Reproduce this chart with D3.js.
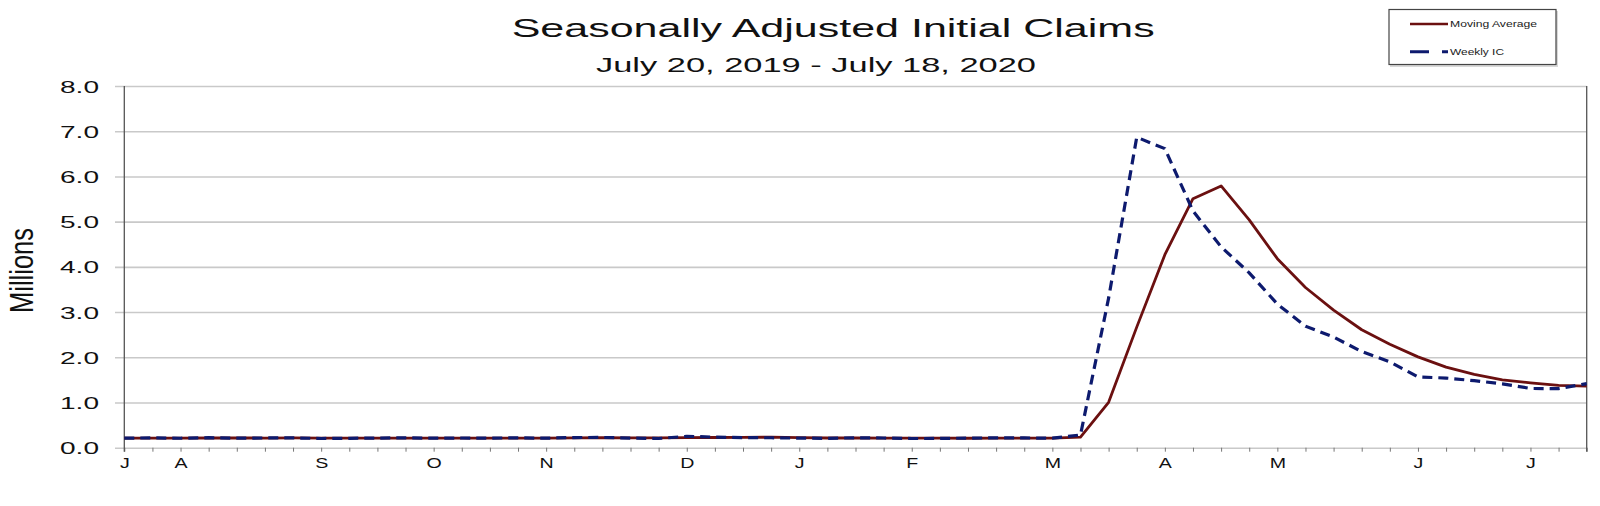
<!DOCTYPE html>
<html>
<head>
<meta charset="utf-8">
<script src="https://cdn.jsdelivr.net/npm/d3@7"></script>
<style>
  html, body { margin: 0; padding: 0; background: #fff; }
  svg { display: block; font-family: "Liberation Sans", Arial, sans-serif; }
</style>
</head>
<body>
<svg id="chart" width="1600" height="506"></svg>
<script>
// ---------------- DATA ----------------
const weeks = [
  "2019-07-20","2019-07-27","2019-08-03","2019-08-10","2019-08-17","2019-08-24","2019-08-31",
  "2019-09-07","2019-09-14","2019-09-21","2019-09-28","2019-10-05","2019-10-12","2019-10-19",
  "2019-10-26","2019-11-02","2019-11-09","2019-11-16","2019-11-23","2019-11-30","2019-12-07",
  "2019-12-14","2019-12-21","2019-12-28","2020-01-04","2020-01-11","2020-01-18","2020-01-25",
  "2020-02-01","2020-02-08","2020-02-15","2020-02-22","2020-02-29","2020-03-07","2020-03-14",
  "2020-03-21","2020-03-28","2020-04-04","2020-04-11","2020-04-18","2020-04-25","2020-05-02",
  "2020-05-09","2020-05-16","2020-05-23","2020-05-30","2020-06-06","2020-06-13","2020-06-20",
  "2020-06-27","2020-07-04","2020-07-11","2020-07-18"
];
// Weekly initial claims (millions)
const weeklyIC = [
  0.211,0.217,0.209,0.221,0.211,0.215,0.217,
  0.204,0.208,0.213,0.219,0.210,0.214,0.212,
  0.218,0.211,0.225,0.227,0.213,0.203,0.252,
  0.234,0.222,0.220,0.212,0.207,0.220,0.215,
  0.203,0.205,0.211,0.219,0.216,0.211,0.282,
  3.307,6.867,6.615,5.237,4.442,3.867,3.176,
  2.687,2.446,2.126,1.897,1.566,1.540,1.482,
  1.413,1.310,1.307,1.416
];
// 4-week moving average (millions)
const movingAvg = [
  0.214,0.213,0.212,0.215,0.215,0.214,0.216,
  0.212,0.211,0.211,0.211,0.213,0.214,0.214,
  0.214,0.214,0.217,0.220,0.219,0.217,0.224,
  0.226,0.228,0.232,0.222,0.215,0.215,0.214,
  0.211,0.211,0.209,0.210,0.213,0.214,0.232,
  1.004,2.667,4.268,5.507,5.790,5.040,4.181,
  3.543,3.044,2.609,2.289,2.009,1.782,1.621,
  1.500,1.436,1.378,1.362
];
const monthLabels     = ["J","A","S","O","N","D","J","F","M","A","M","J","J"];
const monthLabelWeeks = ["2019-07-20","2019-08-03","2019-09-07","2019-10-05","2019-11-02","2019-12-07",
                         "2020-01-04","2020-02-01","2020-03-07","2020-04-04","2020-05-02","2020-06-06","2020-07-04"];
const yTicks = [0,1,2,3,4,5,6,7,8];
const seriesNames = ["Moving Average","Weekly IC"];

// ---------------- LAYOUT ----------------
const svg = d3.select("#chart");
const pL = 124.3, pR = 1586.7, pT = 86, pB = 447.7;

const x = d3.scalePoint().domain(weeks).range([pL, pR]);
const y = d3.scaleLinear().domain([0, 8]).range([pB, pT]);

const maColor = "#6b1010", icColor = "#0d1a6e";

// Titles
svg.append("text").attr("x", 511.7).attr("y", 36.7)
  .attr("font-size", 25.6).attr("fill", "#111")
  .attr("textLength", 643).attr("lengthAdjust", "spacingAndGlyphs")
  .text("Seasonally Adjusted Initial Claims");
svg.append("text").attr("x", 596).attr("y", 71.7)
  .attr("font-size", 21).attr("fill", "#111")
  .attr("textLength", 440).attr("lengthAdjust", "spacingAndGlyphs")
  .text("July 20, 2019 - July 18, 2020");

// Y axis label
svg.append("text")
  .attr("transform", "translate(33,270.5) rotate(-90)")
  .attr("text-anchor", "middle")
  .attr("font-size", 33).attr("fill", "#111")
  .attr("textLength", 85).attr("lengthAdjust", "spacingAndGlyphs")
  .text("Millions");

// Y gridlines + labels
const gy = svg.append("g").attr("transform", `translate(115,0)`)
  .call(d3.axisLeft(y).tickValues(yTicks).tickFormat(d3.format(".1f"))
        .tickSizeInner(-(pR - 115)).tickSizeOuter(0).tickPadding(16));
gy.select(".domain").remove();
gy.selectAll(".tick line").attr("stroke", "#c9c9c9").attr("stroke-width", 1.6);
gy.selectAll(".tick text")
  .attr("x", -16).attr("dy", "0.36em")
  .attr("text-anchor", "end")
  .attr("textLength", 39).attr("lengthAdjust", "spacingAndGlyphs")
  .attr("font-size", 17).attr("fill", "#111");

// X axis ticks + month labels
const labelMap = new Map(monthLabelWeeks.map((w, i) => [w, monthLabels[i]]));
const gx = svg.append("g").attr("transform", `translate(0,${pB})`)
  .call(d3.axisBottom(x).tickValues(weeks).tickFormat(d => labelMap.get(d) || "")
        .tickSizeInner(4).tickSizeOuter(0).tickPadding(6.5));
gx.select(".domain").remove();
gx.selectAll(".tick line").attr("stroke", "#777").attr("stroke-width", 1);
gx.selectAll(".tick text")
  .attr("transform", "scale(1.4,1)")
  .attr("font-size", 14).attr("fill", "#111");

// Left axis & right border
svg.append("line").attr("x1", pL).attr("x2", pL).attr("y1", pT).attr("y2", pB + 4)
  .attr("stroke", "#555").attr("stroke-width", 1.3);
svg.append("line").attr("x1", pR).attr("x2", pR).attr("y1", pT).attr("y2", pB + 4)
  .attr("stroke", "#555").attr("stroke-width", 1.3);

// Lines
const lineGen = d3.line().x((d, i) => x(weeks[i])).y(d => y(d));
svg.append("path").datum(movingAvg).attr("d", lineGen)
  .attr("fill", "none").attr("stroke", maColor).attr("stroke-width", 2.8)
  .attr("stroke-linejoin", "round");
svg.append("path").datum(weeklyIC).attr("d", lineGen)
  .attr("fill", "none").attr("stroke", icColor).attr("stroke-width", 3.2)
  .attr("stroke-dasharray", "10,6");

// Legend
const lg = svg.append("g");
lg.append("rect").attr("x", 1390).attr("y", 11).attr("width", 168).attr("height", 56)
  .attr("fill", "#d8d8d8");
lg.append("rect").attr("x", 1389).attr("y", 9.5).attr("width", 167).attr("height", 55)
  .attr("fill", "#fff").attr("stroke", "#444").attr("stroke-width", 1.2);
const legendRows = [
  { name: seriesNames[0], color: maColor, dash: null, w: 2.6, y: 24, tl: 87 },
  { name: seriesNames[1], color: icColor, dash: "19,13,6", w: 3, y: 51.7, tl: 54 }
];
legendRows.forEach(r => {
  lg.append("line").attr("x1", 1410).attr("x2", 1448).attr("y1", r.y).attr("y2", r.y)
    .attr("stroke", r.color).attr("stroke-width", r.w)
    .attr("stroke-dasharray", r.dash);
  lg.append("text").attr("x", 1450).attr("y", r.y + 3)
    .attr("font-size", 8.5).attr("fill", "#222")
    .attr("textLength", r.tl).attr("lengthAdjust", "spacingAndGlyphs")
    .text(r.name);
});
</script>
</body>
</html>
